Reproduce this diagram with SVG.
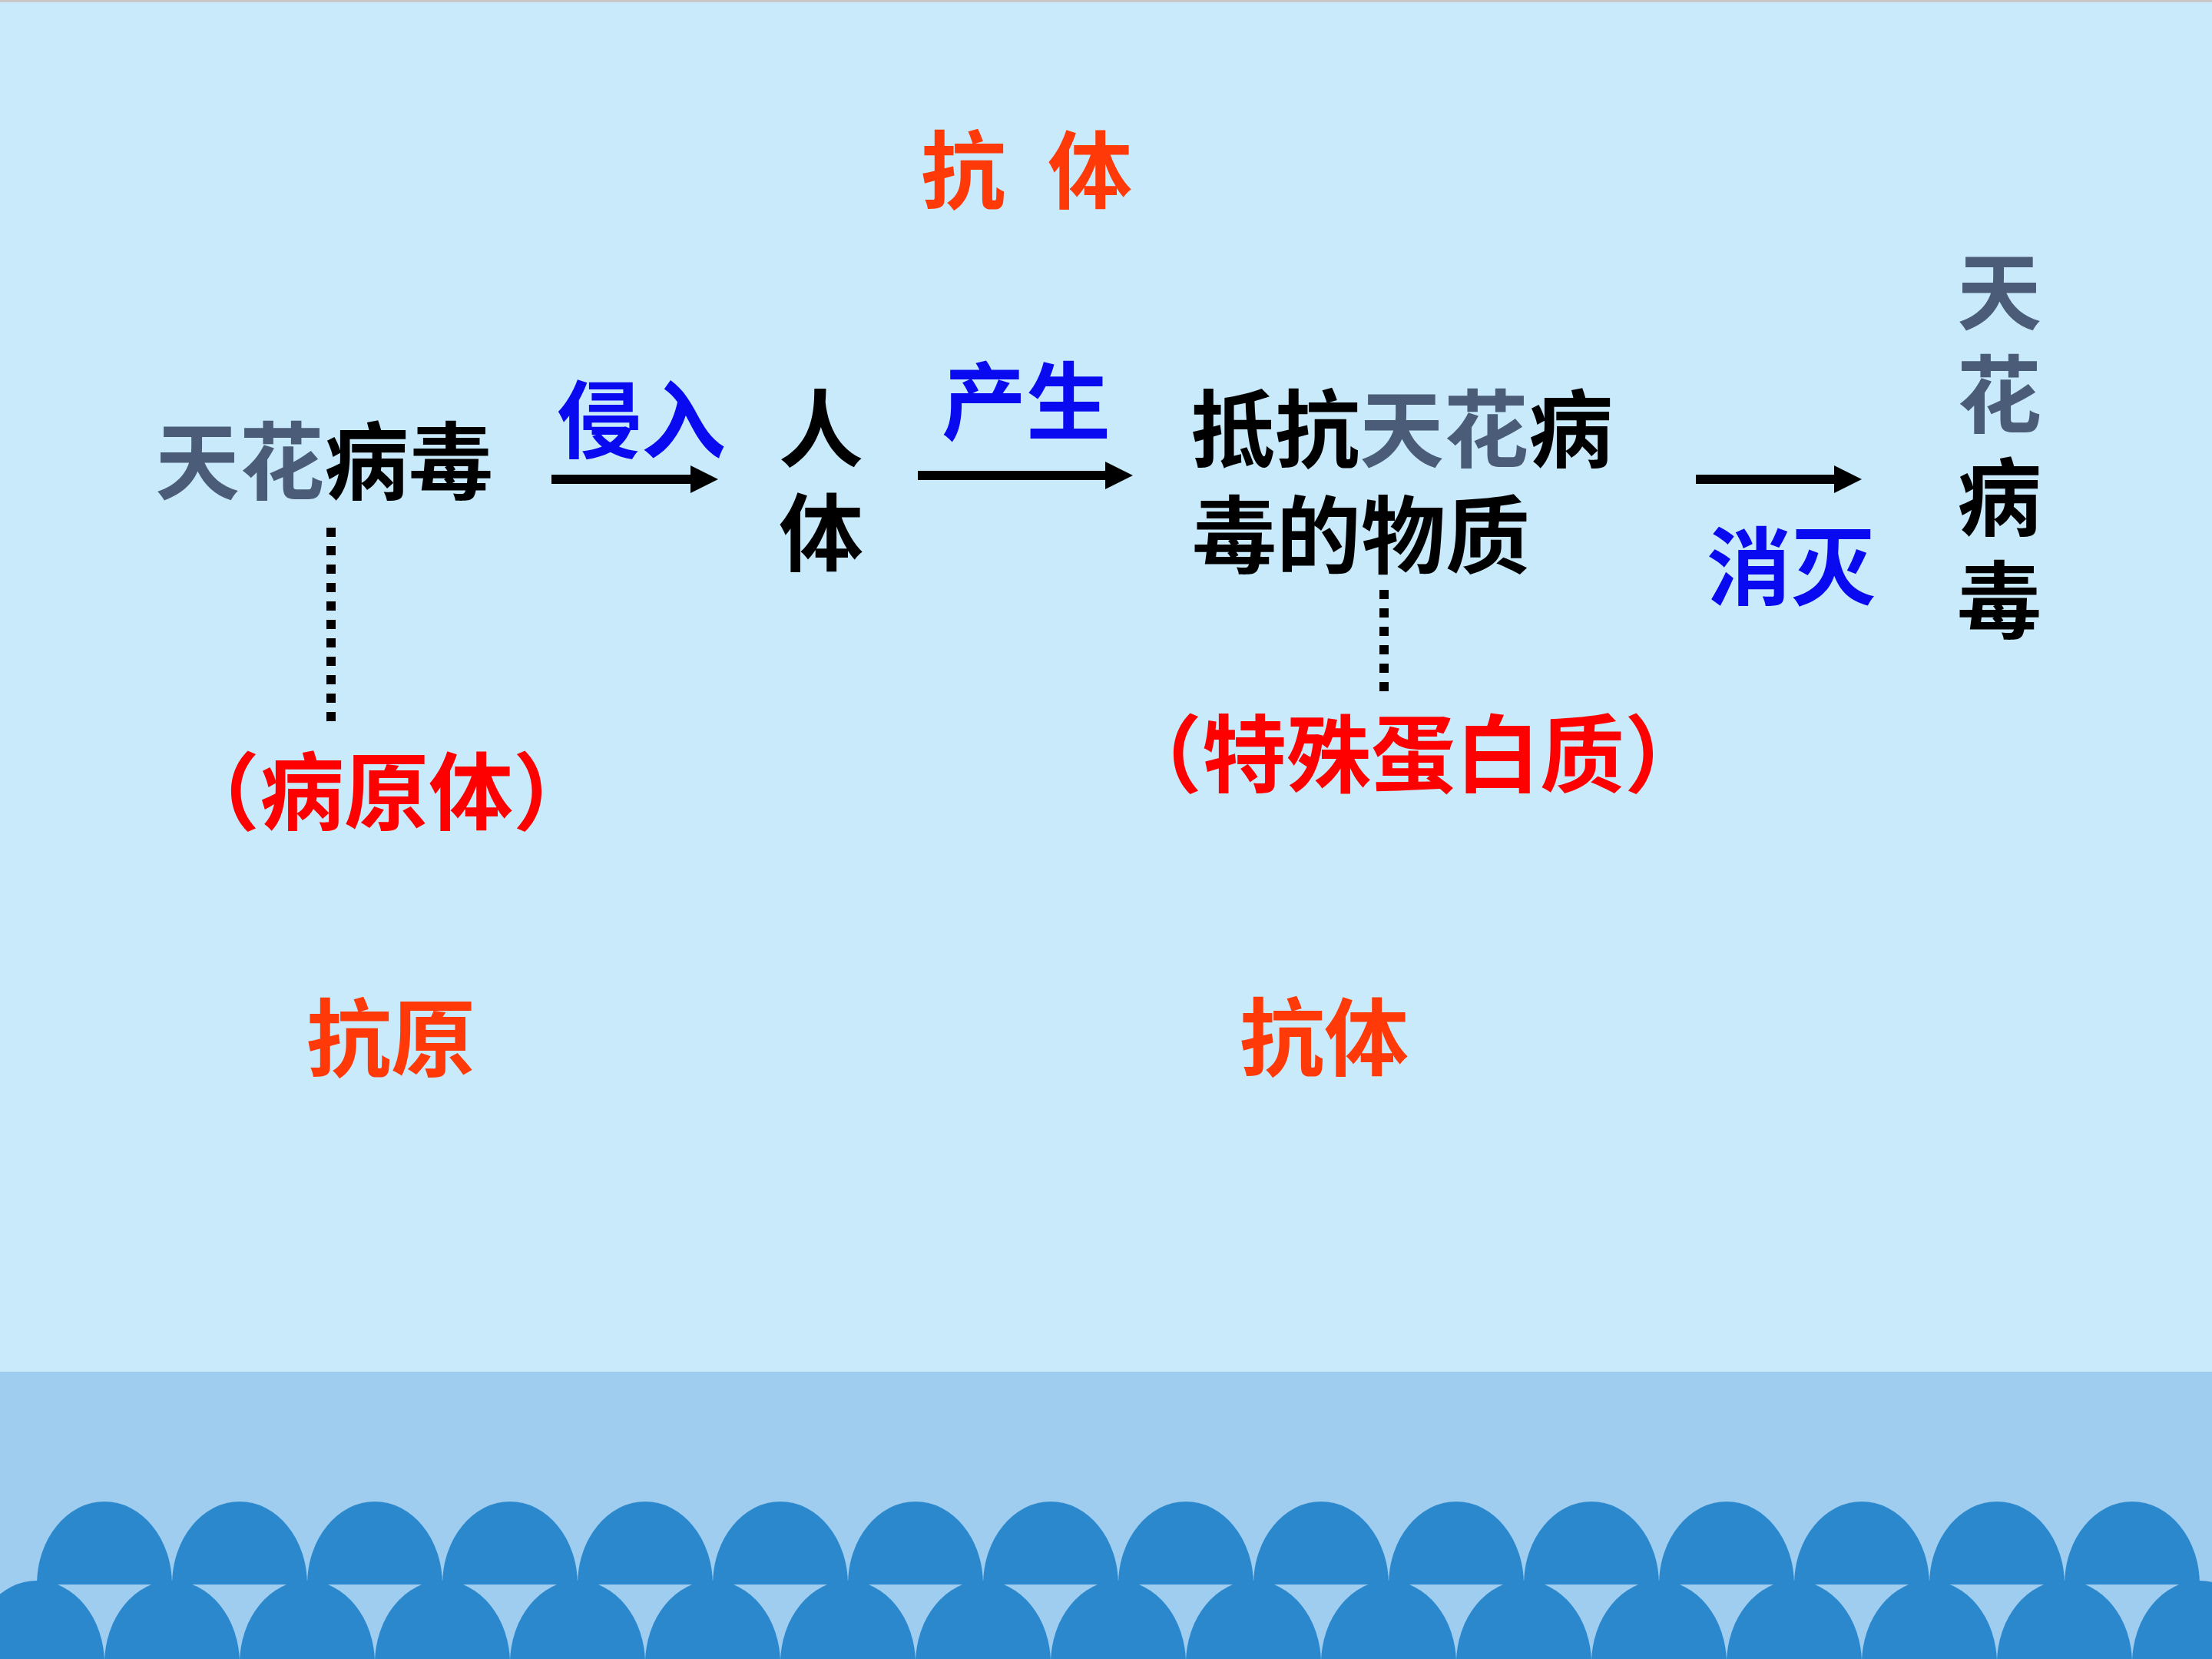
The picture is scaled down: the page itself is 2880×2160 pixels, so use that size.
<svg xmlns="http://www.w3.org/2000/svg" width="2880" height="2160" viewBox="0 0 2880 2160">
  <defs>
    <style>
      .t { font-family: "Noto Sans CJK SC", "Noto Sans CJK JP", sans-serif; font-size: 110px; font-weight: 700; }
      .m { font-family: "Liberation Sans", "Noto Sans CJK SC", "Noto Sans CJK JP", sans-serif; }
      .v { writing-mode: vertical-rl; }
      .k { fill: #000000; }
      .s { fill: #4b5c78; }
      .b { fill: #0a0af0; }
      .r { fill: #ff0000; }
      .o { fill: #ff3a08; }
      .arrow { stroke: #000000; stroke-width: 12; fill: none; marker-end: url(#head); }
      .dots { stroke: #000000; stroke-width: 12; fill: none; stroke-dasharray: 12 12; }
      .sc { fill: #2b88cd; }
    </style>
    <marker id="head" viewBox="0 0 36 36" refX="0" refY="18" markerWidth="36" markerHeight="36" markerUnits="userSpaceOnUse" orient="auto">
      <path d="M0,0 L36,18 L0,36 Z" fill="#000000"/>
    </marker>
    <path id="arch" d="M-88,0 A88,108 0 0 1 88,0 Z"/>
  </defs>

  <g id="background">
    <rect x="0" y="0" width="2880" height="2160" fill="#c8eafb"/>
    <rect x="0" y="0" width="2880" height="3" fill="#c8c8c8"/>
    <rect x="0" y="1786" width="2880" height="374" fill="#9fcdf0"/>
    <g class="sc">
      <use href="#arch" x="136" y="2063"/><use href="#arch" x="312" y="2063"/><use href="#arch" x="488" y="2063"/><use href="#arch" x="664" y="2063"/>
      <use href="#arch" x="840" y="2063"/><use href="#arch" x="1016" y="2063"/><use href="#arch" x="1192" y="2063"/><use href="#arch" x="1368" y="2063"/>
      <use href="#arch" x="1544" y="2063"/><use href="#arch" x="1720" y="2063"/><use href="#arch" x="1896" y="2063"/><use href="#arch" x="2072" y="2063"/>
      <use href="#arch" x="2248" y="2063"/><use href="#arch" x="2424" y="2063"/><use href="#arch" x="2600" y="2063"/><use href="#arch" x="2776" y="2063"/>
      <use href="#arch" x="48" y="2166"/><use href="#arch" x="224" y="2166"/><use href="#arch" x="400" y="2166"/><use href="#arch" x="576" y="2166"/>
      <use href="#arch" x="752" y="2166"/><use href="#arch" x="928" y="2166"/><use href="#arch" x="1104" y="2166"/><use href="#arch" x="1280" y="2166"/>
      <use href="#arch" x="1456" y="2166"/><use href="#arch" x="1632" y="2166"/><use href="#arch" x="1808" y="2166"/><use href="#arch" x="1984" y="2166"/>
      <use href="#arch" x="2160" y="2166"/><use href="#arch" x="2336" y="2166"/><use href="#arch" x="2512" y="2166"/><use href="#arch" x="2688" y="2166"/>
      <use href="#arch" x="2864" y="2166"/>
    </g>
  </g>

  <g id="connectors">
    <line class="arrow" x1="718" y1="624" x2="899" y2="624"/>
    <line class="arrow" x1="1195" y1="619" x2="1439" y2="619"/>
    <line class="arrow" x1="2208" y1="624" x2="2388" y2="624"/>
    <line class="dots" x1="431" y1="687" x2="431" y2="939"/>
    <line class="dots" x1="1802" y1="768" x2="1802" y2="900"/>
  </g>

  <g id="label-kangti-top">
    <text class="t o" x="1199" y="263">抗</text>
    <text class="t o" x="1364" y="263">体</text>
  </g>

  <g id="node-virus">
    <text class="t" x="202" y="642"><tspan class="s">天花</tspan><tspan class="k">病毒</tspan></text>
  </g>

  <g id="label-qinru">
    <text class="t b" x="725" y="588">侵入</text>
  </g>

  <g id="node-body">
    <text class="t k v" x="1069" y="502" letter-spacing="26">人体</text>
  </g>

  <g id="label-chansheng">
    <text class="t b" x="1226" y="564">产生</text>
  </g>

  <g id="node-substance">
    <text class="t m" x="1550" y="600"><tspan class="k">抵抗</tspan><tspan class="s">天花</tspan><tspan class="k">病</tspan></text>
    <text class="t m k" x="1552" y="738">毒的物质</text>
  </g>

  <g id="label-xiaomie">
    <text class="t b" x="2222" y="779">消灭</text>
  </g>

  <g id="node-virus-right">
    <text class="t v" x="2603" y="324" letter-spacing="24"><tspan class="s">天花</tspan><tspan class="k">病毒</tspan></text>
  </g>

  <g id="node-pathogen">
    <text class="t r" x="228" y="1072">（病原体）</text>
  </g>

  <g id="node-protein">
    <text class="t r" x="1455" y="1023">（特殊蛋白质）</text>
  </g>

  <g id="label-kangyuan">
    <text class="t o" x="399" y="1393">抗原</text>
  </g>

  <g id="label-kangti">
    <text class="t o" x="1614" y="1392">抗体</text>
  </g>
</svg>
